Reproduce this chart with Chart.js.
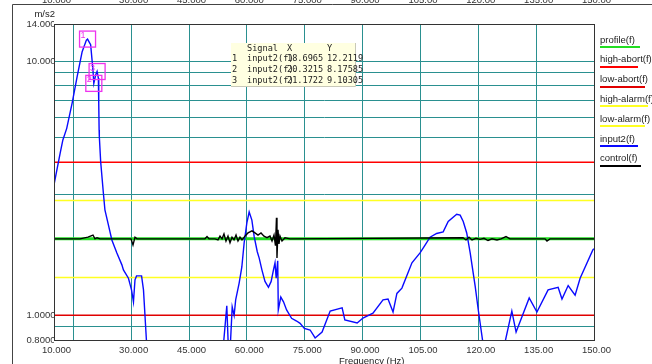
<!DOCTYPE html>
<html>
<head>
<meta charset="utf-8">
<title>input2(f)</title>
<script src="https://cdn.jsdelivr.net/npm/chart.js@4.4.1/dist/chart.umd.min.js"></script>
<style>
    html, body { margin: 0; padding: 0; background: #fff; }
    #wrap { position: relative; width: 652px; height: 364px; overflow: hidden; }
</style>
</head>
<body>
<div id="wrap"><canvas id="spectrum" width="652" height="364"></canvas></div>
<script>
// axes: frequency (Hz) / acceleration (m/s2, log)
const xTicks = [10, 15, 30, 45, 60, 75, 90, 105, 120, 135, 150];
const xHiddenLabels = [15];
const yTicks = [0.8, 0.9, 1, 2, 3, 4, 5, 6, 7, 8, 9, 10, 14];
const yLabelled = [0.8, 1, 10, 14];

// reference profile and abort / alarm limits
const bandFreq = [10, 150];
const profileLevel = [2.0, 2.0];
const highAbortLevel = [4.0, 4.0];
const lowAbortLevel = [1.0, 1.0];
const highAlarmLevel = [2.83, 2.83];
const lowAlarmLevel = [1.41, 1.41];

// measured response, input2
const inputFreq = [
    10.0, 10.5, 11.6, 12.3, 13.3, 14.7, 16.0, 17.3, 18.4, 18.6965, 19.5, 20.1, 20.3215, 20.8, 21.1722,
    21.5, 21.6, 21.7, 21.75, 22.1, 22.8, 23.2, 24.1, 25.0, 26.3, 27.6, 28.0, 29.3, 30.1, 30.6,
    31.0, 31.4, 32.7, 33.2, 34.0, 34.5,
    53.7, 54.8, 55.2, 55.6, 56.2, 56.7, 57.1, 58.0, 58.7, 59.3, 60.0, 60.6, 61.3, 61.9, 62.7,
    63.2, 63.9, 64.7, 65.6, 66.3, 66.9, 67.3, 67.6, 68.0, 68.15, 68.8, 69.5, 70.3, 71.6, 72.9,
    73.8, 74.9, 76.4, 77.7, 79.5, 81.6, 84.7, 85.4, 88.6, 90.1, 92.7, 95.3, 96.6, 97.9, 98.9,
    100.2, 102.8, 104.9, 106.2, 107.5, 109.2, 110.9, 112.2, 114.4, 115.3, 116.1, 117.0, 117.9, 119.2, 120.0,
    121.2, 122.0,
    126.4, 126.9, 128.7, 129.8, 133.2, 135.2, 138.1, 140.7, 141.7, 143.3, 145.1, 146.4, 149.7, 150.0
];
const inputLevel = [
    3.26, 3.57, 4.35, 4.90, 5.44, 6.84, 8.69, 10.9, 12.1, 12.2119, 11.6, 9.23, 8.17585, 8.82, 9.10305,
    8.58, 6.84, 5.36, 5.05, 4.02, 3.03, 2.60, 2.27, 1.98, 1.76, 1.58, 1.51, 1.40, 1.26, 1.13,
    1.38, 1.43, 1.43, 1.26, 0.78, 0.6,
    0.7, 1.09, 0.75, 0.7, 1.08, 1.00, 1.15, 1.34, 1.55, 1.93, 2.31, 2.55, 2.37, 2.04, 1.78,
    1.68, 1.51, 1.36, 1.29, 1.36, 1.51, 1.61, 1.40, 1.64, 1.05, 1.18, 1.13, 1.05, 0.974, 0.950,
    0.930, 0.889, 0.876, 0.815, 0.860, 1.04, 1.07, 0.959, 0.933, 0.976, 1.02, 1.15, 1.16, 1.03, 1.22,
    1.28, 1.61, 1.76, 1.89, 2.03, 2.10, 2.13, 2.34, 2.50, 2.48, 2.34, 2.11, 1.76, 1.30, 1.05,
    0.78, 0.6,
    0.6, 0.78, 1.04, 0.86, 1.17, 1.03, 1.26, 1.29, 1.16, 1.31, 1.20, 1.40, 1.81, 1.83
];

// drive signal, control
const controlFreq = [
    10.0, 16.74, 18.8, 20.11, 20.63, 21.15, 21.93, 29.96, 30.48, 31.0, 31.52, 49.15, 49.67, 50.19,
    51.74, 52.52, 53.04, 53.56, 54.07, 54.59, 55.11, 55.63, 56.15, 56.67, 57.19, 57.70, 58.22, 58.74,
    59.52, 60.30, 61.33, 62.11, 62.89, 63.67, 64.44, 65.22, 66.0, 66.52, 67.04, 67.42, 67.68, 67.81,
    68.07, 68.33, 68.59, 69.11, 69.89, 71.19,
    116.04, 116.81, 117.59, 118.37, 119.41, 120.44, 121.48, 122.52, 123.56, 124.85, 125.89, 127.19,
    128.22, 137.30, 137.81, 138.59, 150.0
];
const controlLevel = [
    2.0, 2.0, 2.03, 2.07, 2.0, 2.02, 2.0, 2.0, 1.89, 2.03, 2.0, 2.0, 2.04, 2.0,
    2.0, 1.98, 2.05, 2.0, 2.09, 1.96, 2.05, 1.93, 2.03, 1.98, 2.07, 1.96, 2.03, 1.98,
    2.05, 2.11, 2.15, 2.11, 2.07, 2.11, 2.05, 2.02, 2.05, 1.96, 2.07, 1.88, 2.42, 1.68,
    2.17, 1.91, 2.05, 1.96, 2.02, 2.0,
    2.02, 1.98, 2.03, 1.98, 2.01, 1.99, 2.01, 1.97, 2.0, 1.98, 2.0, 2.04,
    2.0, 2.0, 1.96, 2.0, 2.0
];

// cursor readout
const cursorIds = [1, 2, 3];
const cursorSignal = ['input2(f)', 'input2(f)', 'input2(f)'];
const cursorFreq = [18.6965, 20.3215, 21.1722];
const cursorLevel = [12.2119, 8.17585, 9.10305];

const legendOrder = ['profile(f)', 'high-abort(f)', 'low-abort(f)', 'high-alarm(f)', 'low-alarm(f)', 'input2(f)', 'control(f)'];
const legendRule = [40, 38, 45, 48, 45, 38, 41];

const FONT = 'Arial, "Liberation Sans", sans-serif';
const MONO = '"DejaVu Sans Mono", "Liberation Mono", monospace';
const GRID = '#2a9090';

// six character numeric labels: 0.8000, 10.000, 150.00
function fmt6(v) {
    const intDigits = Math.max(1, Math.floor(Math.log10(Math.abs(v))) + 1);
    return v.toFixed(Math.max(0, 5 - intDigits));
}

function pairs(xs, ys) {
    return xs.map((x, i) => ({ x, y: ys[i] }));
}

class SpectrumPlot {
    constructor(canvasId) {
        this.canvas = document.getElementById(canvasId);
        this.init();
    }

    init() {
        this.chart = new Chart(this.canvas.getContext('2d'), {
            type: 'line',
            data: { datasets: this.buildDatasets() },
            options: this.buildOptions(),
            plugins: [this.overlayPlugin()]
        });
    }

    line(label, xs, ys, color, width) {
        return {
            label,
            data: pairs(xs, ys),
            borderColor: color,
            backgroundColor: color,
            borderWidth: width,
            pointRadius: 0,
            tension: 0,
            fill: false
        };
    }

    // first dataset is painted last (on top)
    buildDatasets() {
        return [
            this.line('control(f)', controlFreq, controlLevel, '#000000', 1.4),
            this.line('input2(f)', inputFreq, inputLevel, '#0a0aff', 1.4),
            this.line('profile(f)', bandFreq, profileLevel, '#22dd22', 3),
            this.line('high-abort(f)', bandFreq, highAbortLevel, '#ff0000', 1.5),
            this.line('low-abort(f)', bandFreq, lowAbortLevel, '#e00000', 1.5),
            this.line('high-alarm(f)', bandFreq, highAlarmLevel, '#ffff22', 1.6),
            this.line('low-alarm(f)', bandFreq, lowAlarmLevel, '#ffff22', 1.6)
        ];
    }

    buildOptions() {
        const tickFont = { family: FONT, size: 9.5 };
        return {
            responsive: false,
            animation: false,
            layout: { padding: { left: 0, top: 24, right: 58, bottom: 0 } },
            plugins: { legend: { display: false }, tooltip: { enabled: false } },
            scales: {
                x: {
                    type: 'linear',
                    min: 10,
                    max: 150,
                    afterBuildTicks: s => { s.ticks = xTicks.map(value => ({ value })); },
                    afterFit: s => { s.height = 24; },
                    ticks: {
                        autoSkip: false,
                        maxRotation: 0,
                        padding: 5,
                        labelOffset: 2.5,
                        color: '#333',
                        font: tickFont,
                        callback: v => xHiddenLabels.includes(v) ? '' : fmt6(v)
                    },
                    grid: { color: GRID, lineWidth: 1, drawTicks: false },
                    border: { color: '#333', width: 1 }
                },
                y: {
                    type: 'logarithmic',
                    min: 0.8,
                    max: 14,
                    afterBuildTicks: s => { s.ticks = yTicks.map(value => ({ value })); },
                    afterFit: s => { s.width = 54; },
                    ticks: {
                        autoSkip: false,
                        padding: -1.5,
                        color: '#333',
                        font: tickFont,
                        callback: v => yLabelled.includes(v) ? fmt6(v) : ''
                    },
                    grid: { color: GRID, lineWidth: 1, drawTicks: false },
                    border: { color: '#222', width: 1 }
                }
            }
        };
    }

    overlayPlugin() {
        return {
            id: 'overlay',
            afterDraw: chart => {
                const { ctx, chartArea: a, scales: { x, y } } = chart;
                ctx.save();

                // outer frame and the clipped axis of the panel above
                ctx.strokeStyle = '#444';
                ctx.lineWidth = 1;
                ctx.beginPath();
                ctx.moveTo(12.5, 364);
                ctx.lineTo(12.5, 4.5);
                ctx.lineTo(652, 4.5);
                ctx.stroke();
                ctx.fillStyle = '#333';
                ctx.font = `9.5px ${FONT}`;
                ctx.textAlign = 'center';
                ctx.textBaseline = 'alphabetic';
                xTicks.filter(v => !xHiddenLabels.includes(v)).forEach(v => {
                    ctx.fillText(fmt6(v), x.getPixelForValue(v) + 2.5, 2.5);
                });

                // plot box
                ctx.strokeStyle = '#333';
                ctx.strokeRect(Math.round(a.left) + 0.5, Math.round(a.top) + 0.5,
                    Math.round(a.right - a.left), Math.round(a.bottom - a.top));

                // unit and axis titles
                ctx.fillStyle = '#222';
                ctx.textAlign = 'right';
                ctx.textBaseline = 'middle';
                ctx.fillText('m/s2', 55, 14);
                ctx.textAlign = 'left';
                ctx.textBaseline = 'top';
                ctx.fillText('Frequency (Hz)', 339, 357);

                this.drawLegend(ctx, chart);
                this.drawCursors(ctx, x, y);
                this.drawReadout(ctx);
                ctx.restore();
            }
        };
    }

    drawLegend(ctx, chart) {
        ctx.font = `9.5px ${FONT}`;
        ctx.textAlign = 'left';
        ctx.textBaseline = 'middle';
        legendOrder.forEach((name, i) => {
            const ds = chart.data.datasets.find(d => d.label === name);
            const ty = 40 + i * 19.8;
            ctx.fillStyle = '#222';
            ctx.fillText(name, 600, ty);
            ctx.fillStyle = ds.borderColor;
            ctx.fillRect(600, Math.round(ty + 6), legendRule[i], 2);
        });
    }

    drawCursors(ctx, x, y) {
        ctx.strokeStyle = '#ee33ee';
        ctx.fillStyle = '#ee33ee';
        ctx.lineWidth = 1.3;
        ctx.font = `9px ${FONT}`;
        ctx.textAlign = 'left';
        ctx.textBaseline = 'top';
        cursorIds.forEach((id, i) => {
            const px = x.getPixelForValue(cursorFreq[i]);
            const py = y.getPixelForValue(cursorLevel[i]);
            ctx.strokeRect(px - 8, py - 8, 16, 16);
            ctx.fillText(String(id), px - 7, py - 8);
        });
    }

    drawReadout(ctx) {
        const left = 231, top = 43, w = 124, h = 43;
        ctx.fillStyle = '#ffffe1';
        ctx.fillRect(left, top, w, h);
        ctx.strokeStyle = '#c8c8b8';
        ctx.lineWidth = 1;
        ctx.beginPath();
        ctx.moveTo(left + w + 0.5, top);
        ctx.lineTo(left + w + 0.5, top + h + 0.5);
        ctx.lineTo(left, top + h + 0.5);
        ctx.stroke();

        ctx.fillStyle = '#222';
        ctx.font = `8.6px ${MONO}`;
        ctx.textAlign = 'left';
        ctx.textBaseline = 'middle';
        ctx.fillText('Signal', 247, 48.5);
        ctx.fillText('X', 287, 48.5);
        ctx.fillText('Y', 327, 48.5);
        cursorIds.forEach((id, i) => {
            const ry = 59 + i * 10.7;
            ctx.fillText(String(id), 232, ry);
            ctx.fillText(cursorSignal[i], 247, ry);
            ctx.fillText(String(cursorFreq[i]), 287, ry);
            ctx.fillText(String(cursorLevel[i]), 327, ry);
        });
    }
}

document.addEventListener('DOMContentLoaded', () => {
    new SpectrumPlot('spectrum');
});
</script>
</body>
</html>
